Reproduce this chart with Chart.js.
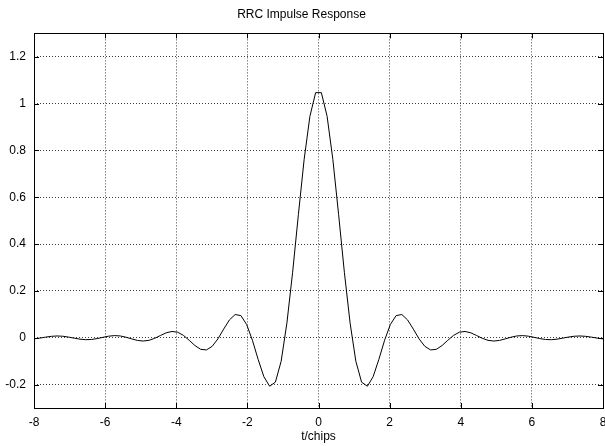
<!DOCTYPE html>
<html>
<head>
<meta charset="utf-8">
<script src="https://cdn.jsdelivr.net/npm/chart.js@4.4.1/dist/chart.umd.min.js"></script>
<style>
  html, body { margin: 0; padding: 0; background: #fff; }
  #wrap { width: 605px; height: 446px; }
</style>
</head>
<body>
<div id="wrap"><canvas id="rrc-chart" width="605" height="446"></canvas></div>
<script>
// sample times (chips) and RRC impulse response values
const chipTimes = [
  -8.0000, -7.8384, -7.6768, -7.5152, -7.3535, -7.1919, -7.0303, -6.8687, -6.7071, -6.5455,
  -6.3838, -6.2222, -6.0606, -5.8990, -5.7374, -5.5758, -5.4141, -5.2525, -5.0909, -4.9293,
  -4.7677, -4.6061, -4.4444, -4.2828, -4.1212, -3.9596, -3.7980, -3.6364, -3.4747, -3.3131,
  -3.1515, -2.9899, -2.8283, -2.6667, -2.5051, -2.3434, -2.1818, -2.0202, -1.8586, -1.6970,
  -1.5354, -1.3737, -1.2121, -1.0505, -0.8889, -0.7273, -0.5657, -0.4040, -0.2424, -0.0808,
  0.0808, 0.2424, 0.4040, 0.5657, 0.7273, 0.8889, 1.0505, 1.2121, 1.3737, 1.5354,
  1.6970, 1.8586, 2.0202, 2.1818, 2.3434, 2.5051, 2.6667, 2.8283, 2.9899, 3.1515,
  3.3131, 3.4747, 3.6364, 3.7980, 3.9596, 4.1212, 4.2828, 4.4444, 4.6061, 4.7677,
  4.9293, 5.0909, 5.2525, 5.4141, 5.5758, 5.7374, 5.8990, 6.0606, 6.2222, 6.3838,
  6.5455, 6.7071, 6.8687, 7.0303, 7.1919, 7.3535, 7.5152, 7.6768, 7.8384, 8.0000
];
const impulseResponse = [
  -0.0048, -0.0015, 0.0026, 0.0061, 0.0076, 0.0065, 0.0030, -0.0017, -0.0060, -0.0082,
  -0.0073, -0.0035, 0.0019, 0.0068, 0.0092, 0.0077, 0.0024, -0.0048, -0.0113, -0.0140,
  -0.0110, -0.0024, 0.0097, 0.0211, 0.0269, 0.0237, 0.0102, -0.0107, -0.0332, -0.0494,
  -0.0519, -0.0367, -0.0047, 0.0369, 0.0762, 0.0993, 0.0945, 0.0565, -0.0106, -0.0925,
  -0.1666, -0.2071, -0.1896, -0.1004, 0.0623, 0.2797, 0.5262, 0.7612, 0.9455, 1.0470,
  1.0470, 0.9455, 0.7612, 0.5262, 0.2797, 0.0623, -0.1004, -0.1896, -0.2071, -0.1666,
  -0.0925, -0.0106, 0.0565, 0.0945, 0.0993, 0.0762, 0.0369, -0.0047, -0.0367, -0.0519,
  -0.0494, -0.0332, -0.0107, 0.0102, 0.0237, 0.0269, 0.0211, 0.0097, -0.0024, -0.0110,
  -0.0140, -0.0113, -0.0048, 0.0024, 0.0077, 0.0092, 0.0068, 0.0019, -0.0035, -0.0073,
  -0.0082, -0.0060, -0.0017, 0.0030, 0.0065, 0.0076, 0.0061, 0.0026, -0.0015, -0.0048
];
const xTicks = [-8, -6, -4, -2, 0, 2, 4, 6, 8];
const yTicks = [-0.2, 0, 0.2, 0.4, 0.6, 0.8, 1, 1.2];

const fontFamily = '"Liberation Sans", Arial, Helvetica, sans-serif';

// gnuplot style frame with inward tick marks on all four sides
const framePlugin = {
  id: 'frame',
  afterDatasetsDraw(chart) {
    const { ctx, chartArea: area, scales } = chart;
    const len = 5;
    ctx.save();
    ctx.strokeStyle = '#000';
    ctx.lineWidth = 1;
    ctx.beginPath();
    xTicks.forEach(v => {
      const px = Math.round(scales.x.getPixelForValue(v)) + 0.5;
      ctx.moveTo(px, area.bottom); ctx.lineTo(px, area.bottom - len);
      ctx.moveTo(px, area.top); ctx.lineTo(px, area.top + len);
    });
    yTicks.forEach(v => {
      const py = Math.round(scales.y.getPixelForValue(v)) + 0.5;
      ctx.moveTo(area.left, py); ctx.lineTo(area.left + len, py);
      ctx.moveTo(area.right, py); ctx.lineTo(area.right - len, py);
    });
    ctx.stroke();
    ctx.strokeRect(Math.round(area.left) + 0.5, Math.round(area.top) + 0.5,
      Math.round(area.right - area.left), Math.round(area.bottom - area.top));
    ctx.restore();
  }
};

const fmt = v => String(Math.round(v * 10) / 10);

new Chart(document.getElementById('rrc-chart'), {
  type: 'line',
  data: {
    datasets: [{
      label: 'RRC',
      data: chipTimes.map((t, i) => ({ x: t, y: impulseResponse[i] })),
      borderColor: '#000',
      borderWidth: 1,
      pointRadius: 0,
      tension: 0,
      fill: false
    }]
  },
  options: {
    responsive: false,
    animation: false,
    devicePixelRatio: 1,
    layout: { padding: { left: 0, right: 2, top: 0, bottom: 0 } },
    plugins: {
      legend: { display: false },
      tooltip: { enabled: false },
      title: {
        display: true,
        text: 'RRC Impulse Response',
        color: '#000',
        font: { family: fontFamily, size: 12, weight: 'normal' },
        padding: { top: 7, bottom: 12 }
      }
    },
    scales: {
      x: {
        type: 'linear',
        min: -8,
        max: 8,
        afterBuildTicks: axis => { axis.ticks = xTicks.map(v => ({ value: v })); },
        afterFit: scale => { scale.height = 38; scale.paddingLeft = 0; scale.paddingRight = 0; },
        grid: { color: 'rgba(0,0,0,0.75)', lineWidth: 1, drawTicks: false },
        border: { display: false, dash: [1, 2] },
        ticks: {
          color: '#000',
          padding: 7,
          maxRotation: 0,
          font: { family: fontFamily, size: 12 },
          callback: v => fmt(v)
        },
        title: {
          display: true,
          text: 't/chips',
          color: '#000',
          font: { family: fontFamily, size: 12 },
          padding: { top: 0, bottom: 2 }
        }
      },
      y: {
        min: -0.3,
        max: 1.3,
        afterBuildTicks: axis => { axis.ticks = yTicks.map(v => ({ value: v })); },
        afterFit: scale => { scale.width = 34; },
        grid: { color: 'rgba(0,0,0,0.75)', lineWidth: 1, drawTicks: false },
        border: { display: false, dash: [1, 2] },
        ticks: {
          color: '#000',
          padding: 8,
          font: { family: fontFamily, size: 12 },
          callback: v => fmt(v)
        }
      }
    }
  },
  plugins: [framePlugin]
});
</script>
</body>
</html>
